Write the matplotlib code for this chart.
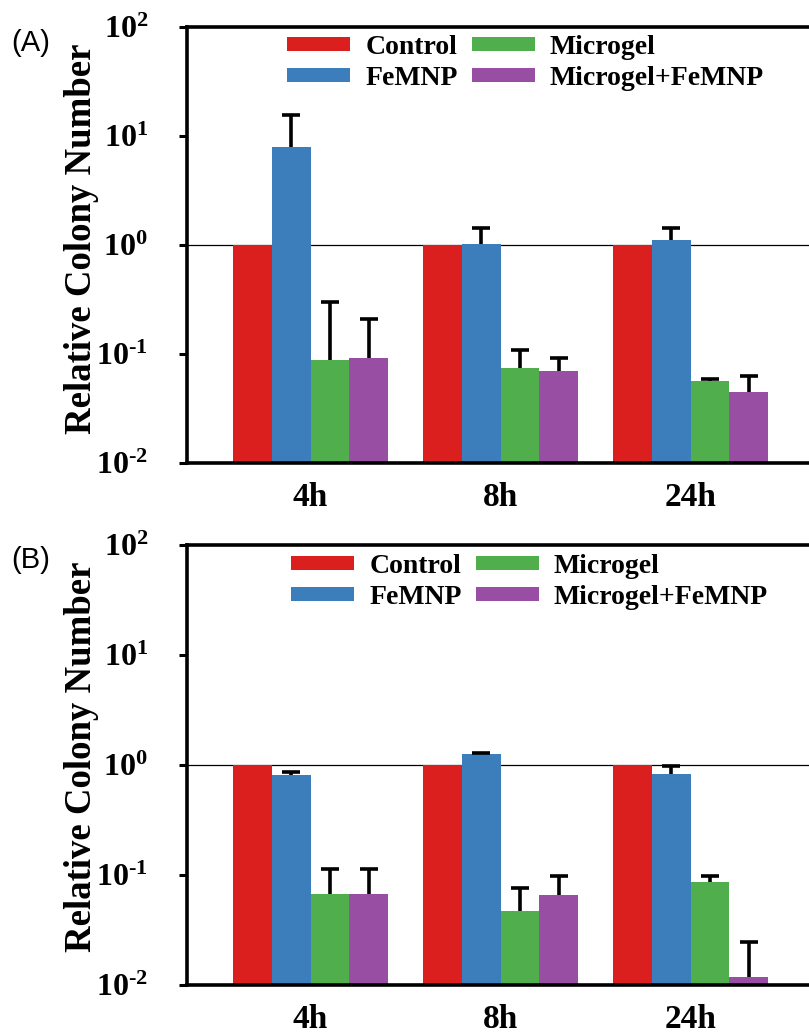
import numpy as np
import matplotlib
matplotlib.use("Agg")
import matplotlib.pyplot as plt
from matplotlib.patches import Patch

# ---------------- data ----------------
groups = ["4h", "8h", "24h"]
series = ["Control", "FeMNP", "Microgel", "Microgel+FeMNP"]
colors = ["#DA1F1E", "#3C7DBB", "#50AE4C", "#984FA3"]

# Panel A values and upper errors
a_control = [1.0, 1.0, 1.0]
a_femnp = [7.98, 1.02, 1.11]
a_microgel = [0.089, 0.074, 0.0565]
a_mix = [0.091, 0.070, 0.0445]
a_err_control = [0.0, 0.0, 0.0]
a_err_femnp = [7.6, 0.40, 0.33]
a_err_microgel = [0.21, 0.034, 0.002]
a_err_mix = [0.12, 0.021, 0.018]

# Panel B values and upper errors
b_control = [1.0, 1.0, 1.0]
b_femnp = [0.81, 1.26, 0.83]
b_microgel = [0.0676, 0.0468, 0.0863]
b_mix = [0.0676, 0.0662, 0.0117]
b_err_control = [0.0, 0.0, 0.0]
b_err_femnp = [0.05, 0.03, 0.14]
b_err_microgel = [0.046, 0.029, 0.011]
b_err_mix = [0.046, 0.032, 0.013]

yticks = [1e-2, 1e-1, 1e0, 1e1, 1e2]
ytick_labels = [r"$\mathbf{10^{\text{-}2}}$", r"$\mathbf{10^{\text{-}1}}$", r"$\mathbf{10^{0}}$",
                r"$\mathbf{10^{1}}$", r"$\mathbf{10^{2}}$"]
ylabel = "Relative Colony Number"
panel_labels = ["(A)", "(B)"]

# ---------------- style ----------------
plt.rcParams["font.family"] = ["Liberation Serif", "DejaVu Serif"]
plt.rcParams["font.weight"] = "bold"
plt.rcParams["mathtext.fontset"] = "custom"
plt.rcParams["mathtext.rm"] = "Liberation Serif:bold"
plt.rcParams["mathtext.bf"] = "Liberation Serif:bold"
plt.rcParams["mathtext.it"] = "Liberation Serif:bold:italic"

W, H = 809, 1035
fig = plt.figure(figsize=(W / 100, H / 100), dpi=100)

bar_w = 0.205
x = np.arange(len(groups))


def px_axes(left, top, right, bottom):
    return [left / W, 1 - bottom / H, (right - left) / W, (bottom - top) / H]


def draw_panel(ax, vals, errs, label, label_xy, legend_anchor):
    ax.set_yscale("log")
    ax.axhline(1.0, color="black", lw=0.9, zorder=1)
    for i, (v, e, c) in enumerate(zip(vals, errs, colors)):
        pos = x + (i - 1.5) * bar_w
        ax.bar(pos, v, width=bar_w, color=c, zorder=2, label=series[i])
        if any(ee > 0 for ee in e):
            _, caps, _ = ax.errorbar(pos, v, yerr=[np.zeros(len(e)), e], fmt="none",
                                     ecolor="black", elinewidth=2.6, capsize=6.5,
                                     capthick=2.6, zorder=3)
            caps[0].set_visible(False)  # only the upper cap, as in the figure
    ax.set_ylim(1e-2, 1e2)
    ax.set_xlim((187 - 310.5) / 190, (809 - 310.5) / 190)
    ax.set_yticks(yticks)
    ax.set_yticklabels(ytick_labels, fontsize=23)
    ax.yaxis.set_minor_locator(matplotlib.ticker.NullLocator())
    ax.set_xticks(x)
    ax.set_xticklabels(groups, fontsize=24, fontweight="bold")
    ax.tick_params(axis="x", length=0, pad=14)
    ax.tick_params(axis="y", direction="out", length=6, width=2.2, pad=22)
    for s in ["left", "bottom", "top"]:
        ax.spines[s].set_linewidth(2.6)
    ax.spines["right"].set_visible(False)
    handles = [Patch(facecolor=c, edgecolor="none") for c in colors]
    ax.legend(handles, series, ncol=2, frameon=False,
              loc="upper left", bbox_to_anchor=legend_anchor,
              bbox_transform=fig.transFigure,
              prop={"family": "Liberation Serif", "weight": "bold", "size": 20},
              handlelength=2.27, handleheight=0.43, handletextpad=0.55,
              columnspacing=0.5, labelspacing=0.22, borderpad=0, borderaxespad=0)
    fig.text(label_xy[0] / W, 1 - label_xy[1] / H, label, fontsize=21,
             family="Liberation Sans", fontweight="normal", ha="left", va="center")
    return ax


axA = fig.add_axes(px_axes(187, 27, 809, 463))
draw_panel(axA, [a_control, a_femnp, a_microgel, a_mix],
           [a_err_control, a_err_femnp, a_err_microgel, a_err_mix],
           panel_labels[0], (11, 43), (287 / W, 1 - 35 / H))
fig.text(82 / W, 1 - 239 / H, ylabel, rotation=90, fontsize=26.5, fontweight="bold",
         ha="center", va="center")

axB = fig.add_axes(px_axes(187, 545, 809, 985))
draw_panel(axB, [b_control, b_femnp, b_microgel, b_mix],
           [b_err_control, b_err_femnp, b_err_microgel, b_err_mix],
           panel_labels[1], (11, 560), (291 / W, 1 - 554 / H))
fig.text(82 / W, 1 - 757 / H, ylabel, rotation=90, fontsize=26.5, fontweight="bold",
         ha="center", va="center")

fig.savefig("out.png", dpi=100)
